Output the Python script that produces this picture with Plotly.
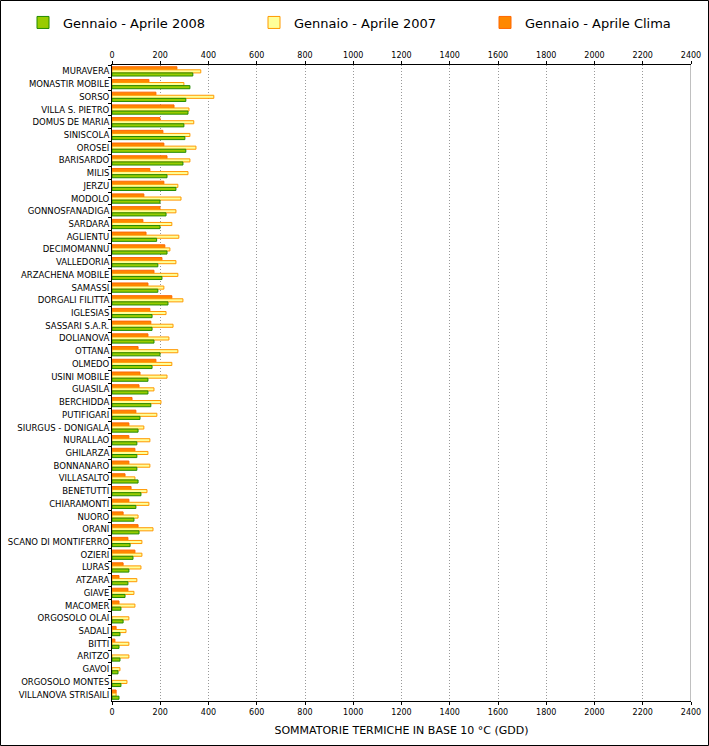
import plotly.graph_objects as go

categories = ["MURAVERA", "MONASTIR MOBILE", "SORSO", "VILLA S. PIETRO", "DOMUS DE MARIA",
              "SINISCOLA", "OROSEI", "BARISARDO", "MILIS", "JERZU", "MODOLO", "GONNOSFANADIGA",
              "SARDARA", "AGLIENTU", "DECIMOMANNU", "VALLEDORIA", "ARZACHENA MOBILE", "SAMASSI",
              "DORGALI FILITTA", "IGLESIAS", "SASSARI S.A.R.", "DOLIANOVA", "OTTANA", "OLMEDO",
              "USINI MOBILE", "GUASILA", "BERCHIDDA", "PUTIFIGARI", "SIURGUS - DONIGALA",
              "NURALLAO", "GHILARZA", "BONNANARO", "VILLASALTO", "BENETUTTI", "CHIARAMONTI",
              "NUORO", "ORANI", "SCANO DI MONTIFERRO", "OZIERI", "LURAS", "ATZARA", "GIAVE",
              "MACOMER", "ORGOSOLO OLAI", "SADALI", "BITTI", "ARITZO", "GAVOI",
              "ORGOSOLO MONTES", "VILLANOVA STRISAILI"]

gdd_2008 = [335, 323, 306, 315, 298, 302, 306, 294, 228, 265, 199, 224,
            199, 185, 228, 190, 207, 190, 232, 166, 166, 174, 199, 166,
            149, 149, 161, 116, 108, 103, 103, 103, 108, 120, 99,
            91, 112, 75, 87, 70, 66, 54, 37, 46, 33, 29, 33, 25, 37, 29]

gdd_2007 = [368, 298, 422, 319, 339, 323, 348, 323, 315, 273, 286, 265,
            248, 277, 240, 265, 273, 215, 294, 224, 253, 236, 273, 248,
            228, 174, 203, 186, 132, 157, 149, 157, 95, 145, 153,
            108, 170, 124, 124, 120, 103, 91, 95, 70, 58, 70, 70, 33, 62, 17]

gdd_clima = [269, 153, 182, 257, 199, 211, 215, 228, 157, 215, 132, 199,
             128, 141, 219, 207, 174, 149, 248, 157, 161, 149, 108, 182,
             116, 112, 83, 99, 70, 70, 95, 70, 54, 79, 70,
             46, 108, 66, 95, 46, 29, 66, 29, None, 17, 12, None, None, None, 17]

x_ticks = list(range(0, 2401, 200))

FONT = "DejaVu Sans, Verdana, sans-serif"
W, H = 709, 746
L, R, T, B = 112, 18, 65, 45
PW, PH = W - L - R, H - T - B

fig = go.Figure()
fig.add_trace(go.Bar(y=categories, x=gdd_clima, orientation="h", name="Gennaio - Aprile Clima",
                     marker=dict(color="#FF8800", line=dict(color="#FF6600", width=1))))
fig.add_trace(go.Bar(y=categories, x=gdd_2007, orientation="h", name="Gennaio - Aprile 2007",
                     marker=dict(color="#FFFF99", line=dict(color="#FF9900", width=1))))
fig.add_trace(go.Bar(y=categories, x=gdd_2008, orientation="h", name="Gennaio - Aprile 2008",
                     marker=dict(color="#99CC00", line=dict(color="#228B00", width=1))))
fig.add_trace(go.Scatter(x=[None], y=[None], xaxis="x2", showlegend=False, hoverinfo="skip"))

axis_common = dict(range=[0, 2400], tickvals=x_ticks, ticktext=[str(v) for v in x_ticks],
                   showline=True, linecolor="black", linewidth=1, ticks="outside",
                   ticklen=3, tickcolor="black", tickfont=dict(family=FONT, size=8, color="black"),
                   zeroline=False, fixedrange=True, automargin=False)

legend_left = 23
fig.update_layout(
    width=W, height=H,
    margin=dict(l=L, r=R, t=T, b=B, autoexpand=False),
    paper_bgcolor="white", plot_bgcolor="white",
    barmode="group", bargap=0.27, bargroupgap=0,
    font=dict(family=FONT, color="black"),
    showlegend=True,
    legend=dict(orientation="h", traceorder="reversed",
                x=(legend_left - L) / PW, xanchor="left",
                y=(H - B - 22.5) / PH, yanchor="middle",
                font=dict(family=FONT, size=13, color="black"),
                entrywidth=186, entrywidthmode="pixels", bgcolor="rgba(0,0,0,0)",
                borderwidth=0),
    xaxis=dict(**axis_common, showgrid=True, gridcolor="#999999", griddash="1px,2px", gridwidth=1,
               title=dict(text="SOMMATORIE TERMICHE IN BASE 10 °C (GDD)",
                          font=dict(family=FONT, size=11, color="black"), standoff=10)),
    xaxis2=dict(**axis_common, overlaying="x", side="top", showgrid=False, matches="x"),
    yaxis=dict(type="category", autorange="reversed", showline=True, linecolor="black",
               linewidth=1, ticks="outside", tickson="boundaries", ticklen=3, tickcolor="black",
               tickfont=dict(family=FONT, size=8.5, color="black"), showgrid=False,
               fixedrange=True, automargin=False),
    shapes=[
        dict(type="line", xref="x", yref="paper", x0=2400, x1=2400, y0=0, y1=1,
             line=dict(color="#808080", width=1)),
        dict(type="rect", xref="paper", yref="paper",
             x0=(0.5 - L) / PW, x1=(W - 0.5 - L) / PW,
             y0=(H - B - (H - 0.5)) / PH, y1=(H - B - 0.5) / PH,
             line=dict(color="black", width=1), fillcolor="rgba(0,0,0,0)"),
    ],
)

fig.write_html("out.html", config={"displayModeBar": False},
               post_script="document.body.style.margin='0';")
